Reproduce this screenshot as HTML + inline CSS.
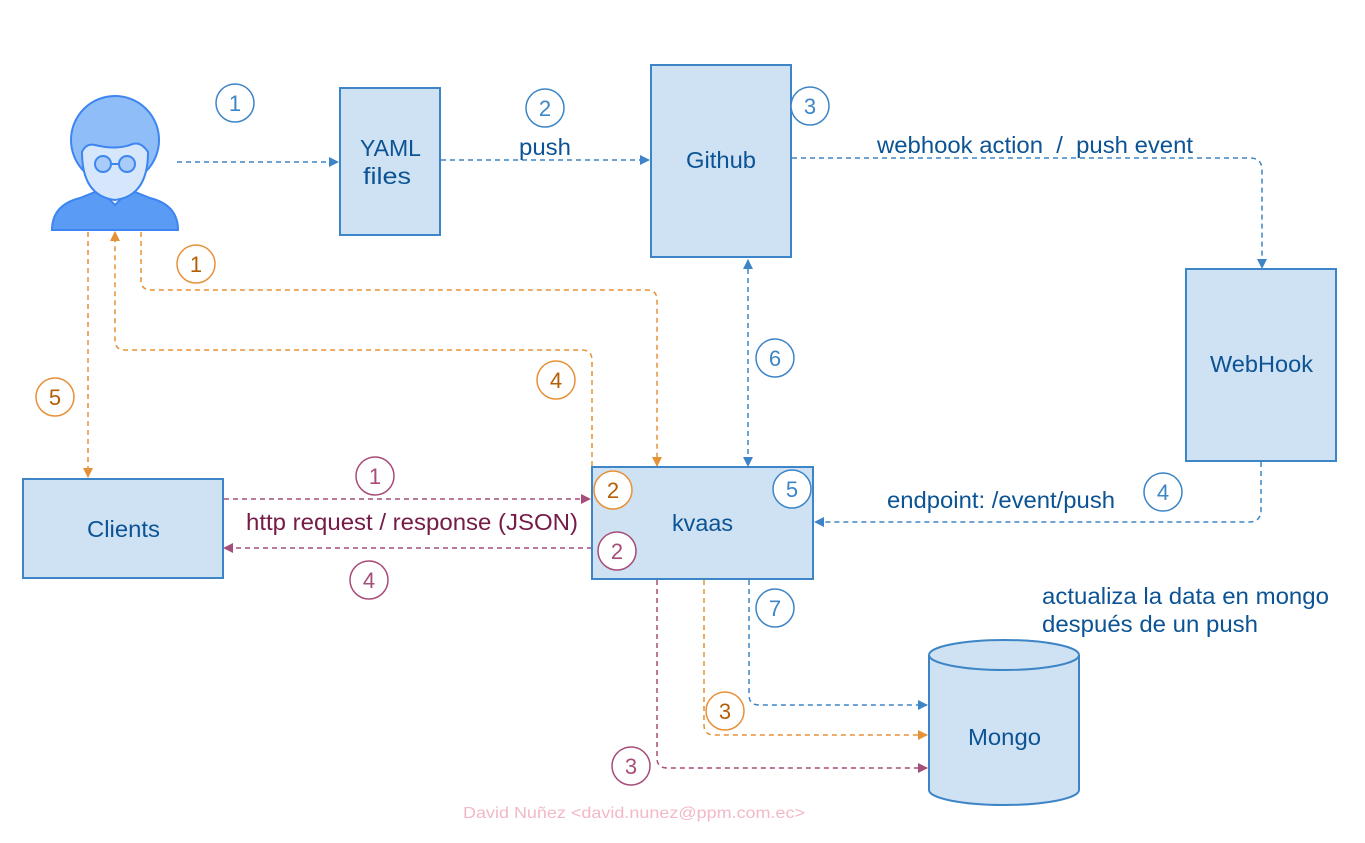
<!DOCTYPE html>
<html><head><meta charset="utf-8"><style>
html,body{margin:0;padding:0;background:#fff;}
svg{display:block;font-family:"Liberation Sans",sans-serif;}
</style></head><body>
<svg width="1365" height="843" viewBox="0 0 1365 843" xmlns="http://www.w3.org/2000/svg">
<defs>
<marker id="ab" markerWidth="10" markerHeight="10" refX="9" refY="5" orient="auto" markerUnits="userSpaceOnUse"><path d="M0,0 L10,5 L0,10 z" fill="#3d85c6"/></marker>
<marker id="ao" markerWidth="10" markerHeight="10" refX="9" refY="5" orient="auto" markerUnits="userSpaceOnUse"><path d="M0,0 L10,5 L0,10 z" fill="#e69138"/></marker>
<marker id="ap" markerWidth="10" markerHeight="10" refX="9" refY="5" orient="auto" markerUnits="userSpaceOnUse"><path d="M0,0 L10,5 L0,10 z" fill="#a64d79"/></marker>
<marker id="abs" markerWidth="10" markerHeight="10" refX="1" refY="5" orient="auto" markerUnits="userSpaceOnUse"><path d="M10,0 L0,5 L10,10 z" fill="#3d85c6"/></marker>
</defs>
<g fill="none" stroke-width="1.5" stroke-dasharray="5,4">
<path d="M177,162 H338" stroke="#3d85c6" marker-end="url(#ab)"/>
<path d="M441,160 H649" stroke="#3d85c6" marker-end="url(#ab)"/>
<path d="M792,158 H1250 Q1262,158 1262,170 V268" stroke="#3d85c6" marker-end="url(#ab)"/>
<path d="M1261,462 V510 Q1261,522 1249,522 H815" stroke="#3d85c6" marker-end="url(#ab)"/>
<path d="M748,260 V466" stroke="#3d85c6" marker-end="url(#ab)" marker-start="url(#abs)"/>
<path d="M141,232 V280 Q141,290 151,290 H647 Q657,290 657,300 V466" stroke="#e69138" marker-end="url(#ao)"/>
<path d="M592,466 V360 Q592,350 582,350 H125 Q115,350 115,340 V232" stroke="#e69138" marker-end="url(#ao)"/>
<path d="M88,232 V477" stroke="#e69138" marker-end="url(#ao)"/>
<path d="M224,499 H590" stroke="#a64d79" marker-end="url(#ap)"/>
<path d="M592,548 H224" stroke="#a64d79" marker-end="url(#ap)"/>
<path d="M657,580 V758 Q657,768 667,768 H927" stroke="#a64d79" marker-end="url(#ap)"/>
<path d="M704,580 V725 Q704,735 714,735 H927" stroke="#e69138" marker-end="url(#ao)"/>
<path d="M749,580 V695 Q749,705 759,705 H927" stroke="#3d85c6" marker-end="url(#ab)"/>
</g>
<g fill="#cfe2f3" stroke="#3d85c6" stroke-width="2">
<rect x="340" y="88" width="100" height="147"/>
<rect x="651" y="65" width="140" height="192"/>
<rect x="1186" y="269" width="150" height="192"/>
<rect x="23" y="479" width="200" height="99"/>
<rect x="592" y="467" width="221" height="112"/>
<path d="M929,655 V790 A75,15 0 0 0 1079,790 V655"/>
<ellipse cx="1004" cy="655" rx="75" ry="15"/>
</g>
<g>
<path d="M52,230 Q52,205 80,198 L100,190 H130 L150,198 Q178,205 178,230 Z" fill="#5a9cf5" stroke="#3d85f0" stroke-width="2"/>
<path d="M100,190 L115,205 L130,190" fill="#fff" stroke="#3d85f0" stroke-width="2"/>
<circle cx="115" cy="140" r="44" fill="#8fbdf7" stroke="#3d85f0" stroke-width="2"/>
<path d="M82,152 Q82,196 115,200 Q148,196 148,152 Q140,140 130,145 Q115,150 95,145 Q86,143 82,152 Z" fill="#d6e7fb" stroke="#3d85f0" stroke-width="2"/>
<circle cx="103" cy="164" r="8" fill="#a8cbf7" stroke="#3d85f0" stroke-width="2"/>
<circle cx="127" cy="164" r="8" fill="#a8cbf7" stroke="#3d85f0" stroke-width="2"/>
<path d="M111,164 H119" stroke="#3d85f0" stroke-width="2"/>
</g>
<g font-size="23" fill="#0b5394">
<text x="360" y="156" textLength="61" lengthAdjust="spacingAndGlyphs">YAML</text><text x="363" y="184" textLength="48" lengthAdjust="spacingAndGlyphs">files</text>
<text x="686" y="168" textLength="70" lengthAdjust="spacingAndGlyphs">Github</text>
<text x="1210" y="372" textLength="103" lengthAdjust="spacingAndGlyphs">WebHook</text>
<text x="87" y="537" textLength="73" lengthAdjust="spacingAndGlyphs">Clients</text>
<text x="672" y="531" textLength="61" lengthAdjust="spacingAndGlyphs">kvaas</text>
<text x="968" y="745" textLength="73" lengthAdjust="spacingAndGlyphs">Mongo</text>
<text x="519" y="155" textLength="52" lengthAdjust="spacingAndGlyphs">push</text>
<text x="877" y="153" textLength="316" lengthAdjust="spacingAndGlyphs">webhook action &#160;/ &#160;push event</text>
<text x="887" y="508" textLength="228" lengthAdjust="spacingAndGlyphs">endpoint: /event/push</text>
<text x="246" y="530" textLength="332" lengthAdjust="spacingAndGlyphs" fill="#741b47">http request / response (JSON)</text>
<text x="1042" y="604" textLength="287" lengthAdjust="spacingAndGlyphs">actualiza la data en mongo</text>
<text x="1042" y="632" textLength="216" lengthAdjust="spacingAndGlyphs">después de un push</text>
</g>
<text x="463" y="818" font-size="16" fill="#f2b8c6" textLength="342" lengthAdjust="spacingAndGlyphs">David Nuñez &lt;david.nunez@ppm.com.ec&gt;</text>
<g font-size="22" text-anchor="middle" stroke-width="1.5">
<g fill="#fff" stroke="#3d85c6"><circle cx="235" cy="103" r="19"/><circle cx="545" cy="108" r="19"/><circle cx="810" cy="106" r="19"/><circle cx="775" cy="358" r="19"/><circle cx="792" cy="489" r="19"/><circle cx="1163" cy="492" r="19"/><circle cx="775" cy="608" r="19"/></g>
<g fill="#3d85c6"><text x="235" y="111">1</text><text x="545" y="116">2</text><text x="810" y="114">3</text><text x="775" y="366">6</text><text x="792" y="497">5</text><text x="1163" y="500">4</text><text x="775" y="616">7</text></g>
<g fill="#fff" stroke="#e69138"><circle cx="196" cy="264" r="19"/><circle cx="556" cy="380" r="19"/><circle cx="55" cy="397" r="19"/><circle cx="613" cy="490" r="19"/><circle cx="725" cy="711" r="19"/></g>
<g fill="#b45f06"><text x="196" y="272">1</text><text x="556" y="388">4</text><text x="55" y="405">5</text><text x="613" y="498">2</text><text x="725" y="719">3</text></g>
<g fill="#fff" stroke="#a64d79"><circle cx="375" cy="476" r="19"/><circle cx="617" cy="551" r="19"/><circle cx="369" cy="580" r="19"/><circle cx="631" cy="766" r="19"/></g>
<g fill="#a64d79"><text x="375" y="484">1</text><text x="617" y="559">2</text><text x="369" y="588">4</text><text x="631" y="774">3</text></g>
</g>
</svg>
</body></html>
